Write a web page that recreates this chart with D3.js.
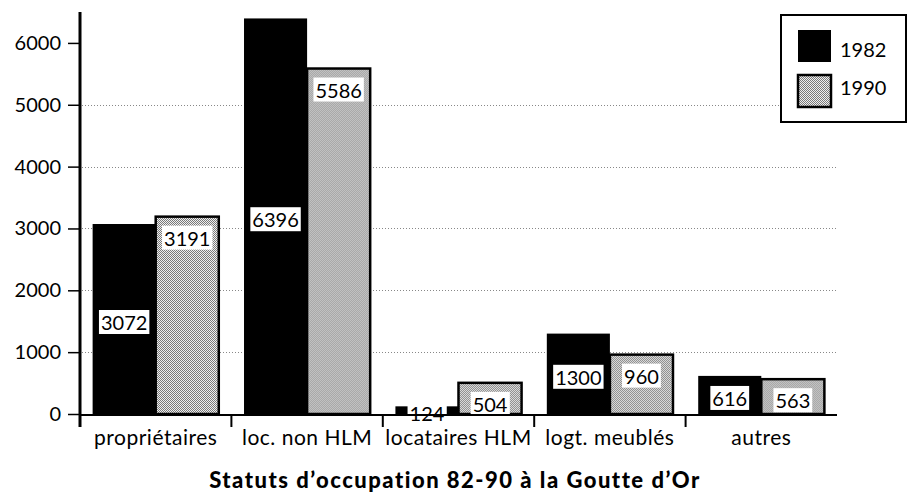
<!DOCTYPE html>
<html>
<head>
<meta charset="utf-8">
<script src="https://cdn.jsdelivr.net/npm/d3@7"></script>
<style>
  html, body { margin: 0; padding: 0; background: #fff; }
  svg text { font-family: "Lato", "Open Sans", sans-serif; fill: #000; }
</style>
</head>
<body>
<div id="chart"></div>
<script>
// data
const categories = ["propriétaires", "loc. non HLM", "locataires HLM", "logt. meublés", "autres"];
const years = ["1982", "1990"];
const values1982 = [3072, 6396, 124, 1300, 616];
const values1990 = [3191, 5586, 504, 960, 563];
const yTicks = [0, 1000, 2000, 3000, 4000, 5000, 6000];
const gridTicks = [1000, 2000, 3000, 4000, 5000];
const title = "Statuts d’occupation 82-90 à la Goutte d’Or";

const W = 910, H = 499;
const svg = d3.select("#chart").append("svg")
  .attr("width", W).attr("height", H);

// halftone-ish fill for 1990
const defs = svg.append("defs");
const pat = defs.append("pattern")
  .attr("id", "dots")
  .attr("patternUnits", "userSpaceOnUse")
  .attr("width", 2).attr("height", 2);
pat.append("rect").attr("width", 2).attr("height", 2).attr("fill", "#f0f0f0");
pat.append("rect").attr("x", 0).attr("y", 0).attr("width", 1).attr("height", 1).attr("fill", "#7a7a7a");
pat.append("rect").attr("x", 1).attr("y", 1).attr("width", 1).attr("height", 1).attr("fill", "#7a7a7a");

// scales
const x0 = d3.scaleBand().domain(categories).range([80, 837]).padding(0);
const x1 = d3.scaleBand().domain(years).range([0, x0.bandwidth()])
  .paddingInner(0).paddingOuter(0.2);
const y = d3.scaleLinear().domain([0, 6500]).range([414, 12]);

// dotted gridlines
svg.append("g").selectAll("line")
  .data(gridTicks).enter().append("line")
  .attr("x1", 82).attr("x2", 837)
  .attr("y1", d => Math.round(y(d)) + 0.5)
  .attr("y2", d => Math.round(y(d)) + 0.5)
  .attr("stroke", "#888")
  .attr("stroke-width", 1)
  .attr("stroke-dasharray", "1,2");

// y axis
const yAxis = d3.axisLeft(y)
  .tickValues(yTicks)
  .tickSize(12)
  .tickPadding(7)
  .tickFormat(d3.format("d"));

const gy = svg.append("g")
  .attr("transform", "translate(80,0)")
  .call(yAxis);
gy.select(".domain").remove();
gy.selectAll(".tick line").attr("stroke", "#000").attr("stroke-width", 1.5);
gy.selectAll(".tick text").style("font-size", "20px");

// bars
const rows = categories.map((c, i) => ({ cat: c, v: [values1982[i], values1990[i]] }));

const groups = svg.append("g").selectAll("g")
  .data(rows).enter().append("g")
  .attr("transform", d => `translate(${x0(d.cat)},0)`);

groups.selectAll("rect")
  .data(d => years.map((yr, j) => ({ yr, v: d.v[j] })))
  .enter().append("rect")
  .attr("x", d => x1(d.yr))
  .attr("y", d => y(d.v))
  .attr("width", x1.bandwidth())
  .attr("height", d => y(0) - y(d.v))
  .attr("fill", d => d.yr === "1982" ? "#000" : "url(#dots)")
  .attr("stroke", "#000")
  .attr("stroke-width", d => d.yr === "1982" ? 0 : 2.5);

// value labels in white boxes
groups.each(function (d) {
  const g = d3.select(this);
  years.forEach((yr, j) => {
    const v = d.v[j];
    const cx = x1(yr) + x1.bandwidth() / 2;
    const cy = yr === "1982" ? (y(v) + y(0)) / 2 + 3 : y(v) + 21;
    const lab = g.append("g").attr("transform", `translate(${cx},${cy})`);
    const t = lab.append("text")
      .attr("text-anchor", "middle")
      .attr("dominant-baseline", "central")
      .style("font-size", "20px")
      .text(v);
    const bb = t.node().getBBox();
    lab.insert("rect", "text")
      .attr("x", bb.x - 2).attr("y", -12)
      .attr("width", bb.width + 4).attr("height", 24)
      .attr("fill", "#fff");
  });
});

// x axis line + separators
svg.append("line")
  .attr("x1", 80).attr("x2", x0.range()[1])
  .attr("y1", y(0) + 1).attr("y2", y(0) + 1)
  .attr("stroke", "#000").attr("stroke-width", 2);

svg.append("g").selectAll("line")
  .data(categories).enter().append("line")
  .attr("x1", d => x0(d)).attr("x2", d => x0(d))
  .attr("y1", y(0)).attr("y2", y(0) + 13)
  .attr("stroke", "#000").attr("stroke-width", 2);

// y axis line (runs a bit below the x axis)
svg.append("line")
  .attr("x1", 80).attr("x2", 80)
  .attr("y1", y(6500)).attr("y2", y(0) + 13)
  .attr("stroke", "#000").attr("stroke-width", 3);

// category labels
svg.append("g").selectAll("text")
  .data(categories).enter().append("text")
  .attr("x", d => x0(d) + x0.bandwidth() / 2)
  .attr("y", 445)
  .attr("text-anchor", "middle")
  .style("font-size", "21px")
  .style("letter-spacing", "0.5px")
  .text(d => d);

// legend
const legend = svg.append("g").attr("transform", "translate(781,15)");
legend.append("rect")
  .attr("width", 125).attr("height", 107)
  .attr("fill", "#fff").attr("stroke", "#000").attr("stroke-width", 2);
years.forEach((yr, j) => {
  legend.append("rect")
    .attr("x", 17).attr("y", 15 + j * 45)
    .attr("width", 33).attr("height", 32)
    .attr("fill", yr === "1982" ? "#000" : "url(#dots)")
    .attr("stroke", "#000").attr("stroke-width", yr === "1982" ? 0 : 2.5);
  legend.append("text")
    .attr("x", 59).attr("y", 42 + j * 38)
    .style("font-size", "20px")
    .text(yr);
});

// title
svg.append("text")
  .attr("x", 455).attr("y", 488)
  .attr("text-anchor", "middle")
  .style("font-size", "22px")
  .style("font-weight", "900")
  .style("letter-spacing", "1.5px")
  .text(title);
</script>
</body>
</html>
